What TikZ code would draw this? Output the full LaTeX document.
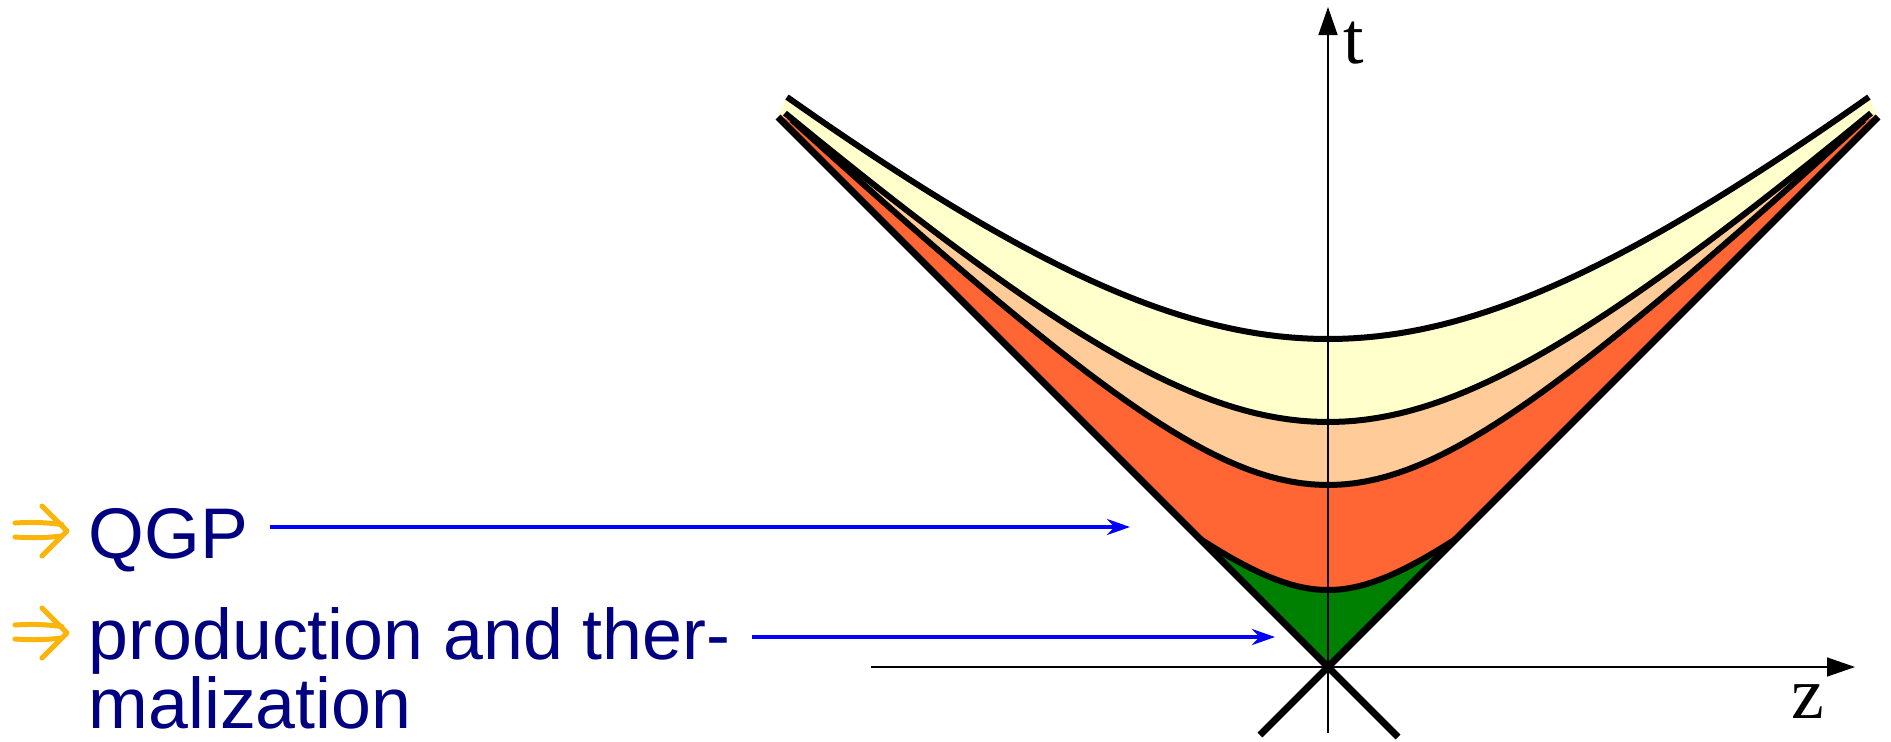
\documentclass[tikz,border=0pt]{standalone}
\usepackage{fontspec}
\setsansfont{Liberation Sans}
\newfontfamily\axisfont{Liberation Serif}
\usetikzlibrary{arrows.meta}

\definecolor{lightyellow}{RGB}{255,255,204}
\definecolor{peach}{RGB}{255,204,153}
\definecolor{hotorange}{RGB}{255,102,51}
\definecolor{darkgreen}{RGB}{0,128,0}
\definecolor{navytext}{RGB}{0,0,128}
\definecolor{bulletorange}{RGB}{250,180,10}

\tikzset{
  curve/.style={line width=0.6mm, black},
  cone/.style={line width=0.7mm, black},
  axis/.style={line width=0.15mm, -{Triangle[length=2.8mm, width=1.9mm]}},
  axis label/.style={font=\axisfont\fontsize{21}{21}\selectfont, inner sep=0pt},
  pointer/.style={line width=0.4mm, blue, -{Stealth[length=2.3mm, width=1.6mm]}},
  label text/.style={text=navytext, font=\sffamily\fontsize{20.4}{19.4}\selectfont,
    align=left, anchor=base west, inner sep=2.1mm},
  bulletstroke/.style={line width=0.5mm, bulletorange, line cap=round, line join=round},
  pics/arrowbullet/.style={code={
    \draw[bulletstroke] (-0.25,0.25) -- (0,0) -- (-0.25,-0.25);
    \draw[bulletstroke] (-0.52,0.08) to[bend left=5] (-0.05,0.065);
    \draw[bulletstroke] (-0.52,-0.06) to[bend right=5] (-0.05,-0.05);
  }}
}

\begin{document}
\begin{tikzpicture}[x=1cm, y=1cm]
\useasboundingbox (-13.28,-0.74) rectangle (5.63,6.67);

\coordinate (O) at (0,0);
\coordinate (T) at (0,6.60);
\coordinate (Tb) at (0,-0.66);
\coordinate (Z) at (5.27,0);
\coordinate (Zb) at (-4.57,0);

% bands between the proper time curves
\fill[lightyellow] plot[domain=-5.41:5.41, samples=100] (\x,{sqrt(3.28*3.28+0.7425*\x*\x)})
  -- (5.5,5.5) -- (O) -- (-5.5,5.5) -- cycle;
\fill[peach] plot[domain=-5.43:5.43, samples=100] (\x,{sqrt(2.45*2.45+0.837*\x*\x)})
  -- (5.5,5.5) -- (O) -- (-5.5,5.5) -- cycle;
\fill[hotorange] plot[domain=-5.36:5.36, samples=100] (\x,{sqrt(1.82*1.82+0.926*\x*\x)})
  -- (5.5,5.5) -- (O) -- (-5.5,5.5) -- cycle;
\fill[darkgreen] plot[domain=-1.28:1.28, samples=60] (\x,{sqrt(0.77*0.77+0.64*\x*\x)})
  -- (O) -- cycle;

\draw[axis] (Tb) -- (T);
\draw[axis] (Zb) -- (Z);

\draw[curve] plot[domain=-5.41:5.41, samples=100] (\x,{sqrt(3.28*3.28+0.7425*\x*\x)});
\draw[curve] plot[domain=-5.43:5.43, samples=100] (\x,{sqrt(2.45*2.45+0.837*\x*\x)});
\draw[curve] plot[domain=-5.36:5.36, samples=100] (\x,{sqrt(1.82*1.82+0.926*\x*\x)});
\draw[curve] plot[domain=-1.28:1.28, samples=60] (\x,{sqrt(0.77*0.77+0.64*\x*\x)});

% light cone
\draw[cone] (-5.5,5.5) -- (0.7,-0.7);
\draw[cone] (5.5,5.5) -- (-0.68,-0.68);

\node[axis label] (tlab) at (0.26,6.24) {t};
\node[axis label] (zlab) at (4.80,-0.35) {z};

\pic at (-12.61,1.36) {arrowbullet};
\node[label text] (qgp) at (-12.61,1.09) {QGP};
\pic at (-12.61,0.34) {arrowbullet};
\node[label text] (prod) at (-12.61,-0.61) {production and ther-\\malization};

\coordinate (qgpend) at (-1.98,1.40);
\coordinate (prodend) at (-0.53,0.30);
\draw[pointer] (qgp.east |- qgpend) -- (qgpend);
\draw[pointer] (prod.east |- prodend) -- (prodend);
\end{tikzpicture}
\end{document}
